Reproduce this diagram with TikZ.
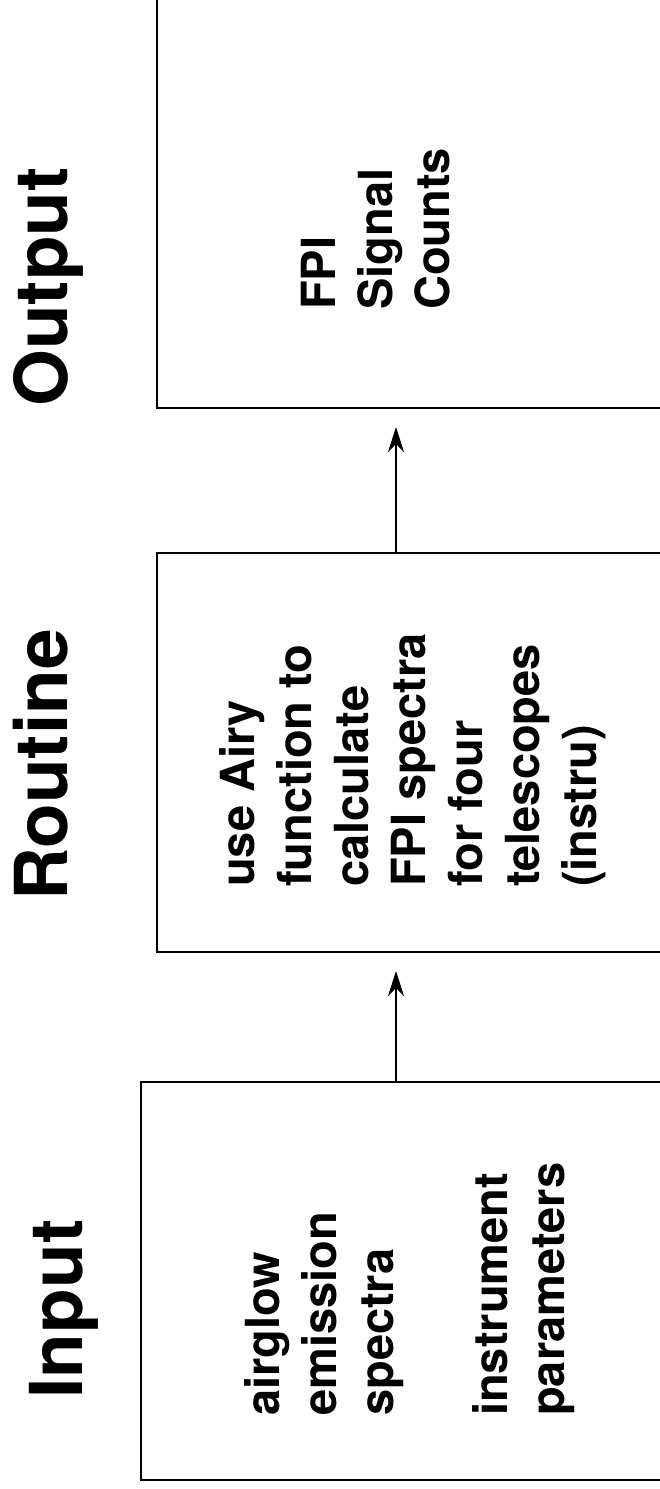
\documentclass[tikz,border=0pt]{standalone}
\usepackage{fontspec}
\setmainfont{TeX Gyre Heros}
\usetikzlibrary{arrows.meta}
\tikzset{
  stagebox/.style={draw=black, line width=2pt, fill=none, inner sep=0pt},
  boxtext/.style={rotate=90, anchor=north west, inner sep=0pt, align=left,
    font=\fontsize{47}{57}\selectfont\bfseries},
  stagelabel/.style={rotate=90, anchor=base, inner sep=0pt,
    font=\fontsize{73}{80}\selectfont\bfseries},
  flow/.style={-{Stealth[length=25pt,width=16pt,inset=8pt]}, line width=1.5pt, shorten >=18pt}
}
\begin{document}
\begin{tikzpicture}[x=1pt,y=-1pt]
\useasboundingbox (0,0) rectangle (660,1489);
\clip (0,0) rectangle (660,1489);
% boxes (extend beyond the right/top edges)
\node[stagebox, minimum width=543pt, minimum height=458pt] (out) at (428.5,179) {};
\node[stagebox, minimum width=543pt, minimum height=399pt] (rt) at (428.5,752.5) {};
\node[stagebox, minimum width=559pt, minimum height=398pt] (in) at (420.5,1281) {};
\coordinate (ax) at (396,0);
% connectors
\draw[flow] (in.north -| ax) -- (rt.south -| ax);
\draw[flow] (rt.north -| ax) -- (out.south -| ax);
% stage labels
\node[stagelabel] (lout) at (67,287) {Output};
\node[stagelabel] (lrt) at (67,765) {Routine};
\node[stagelabel] (lin) at (82,1309) {Input};
% box texts
\node[boxtext] (tout) at (301,310) {FPI\\Signal\\Counts};
\node[boxtext] (trt) at (219,887) {use Airy\\function to\\calculate\\FPI spectra\\for four\\telescopes\\(instru)};
\node[boxtext] (tin) at (244,1416) {airglow\\emission\\spectra\\[57pt]instrument\\parameters};
\end{tikzpicture}
\end{document}
